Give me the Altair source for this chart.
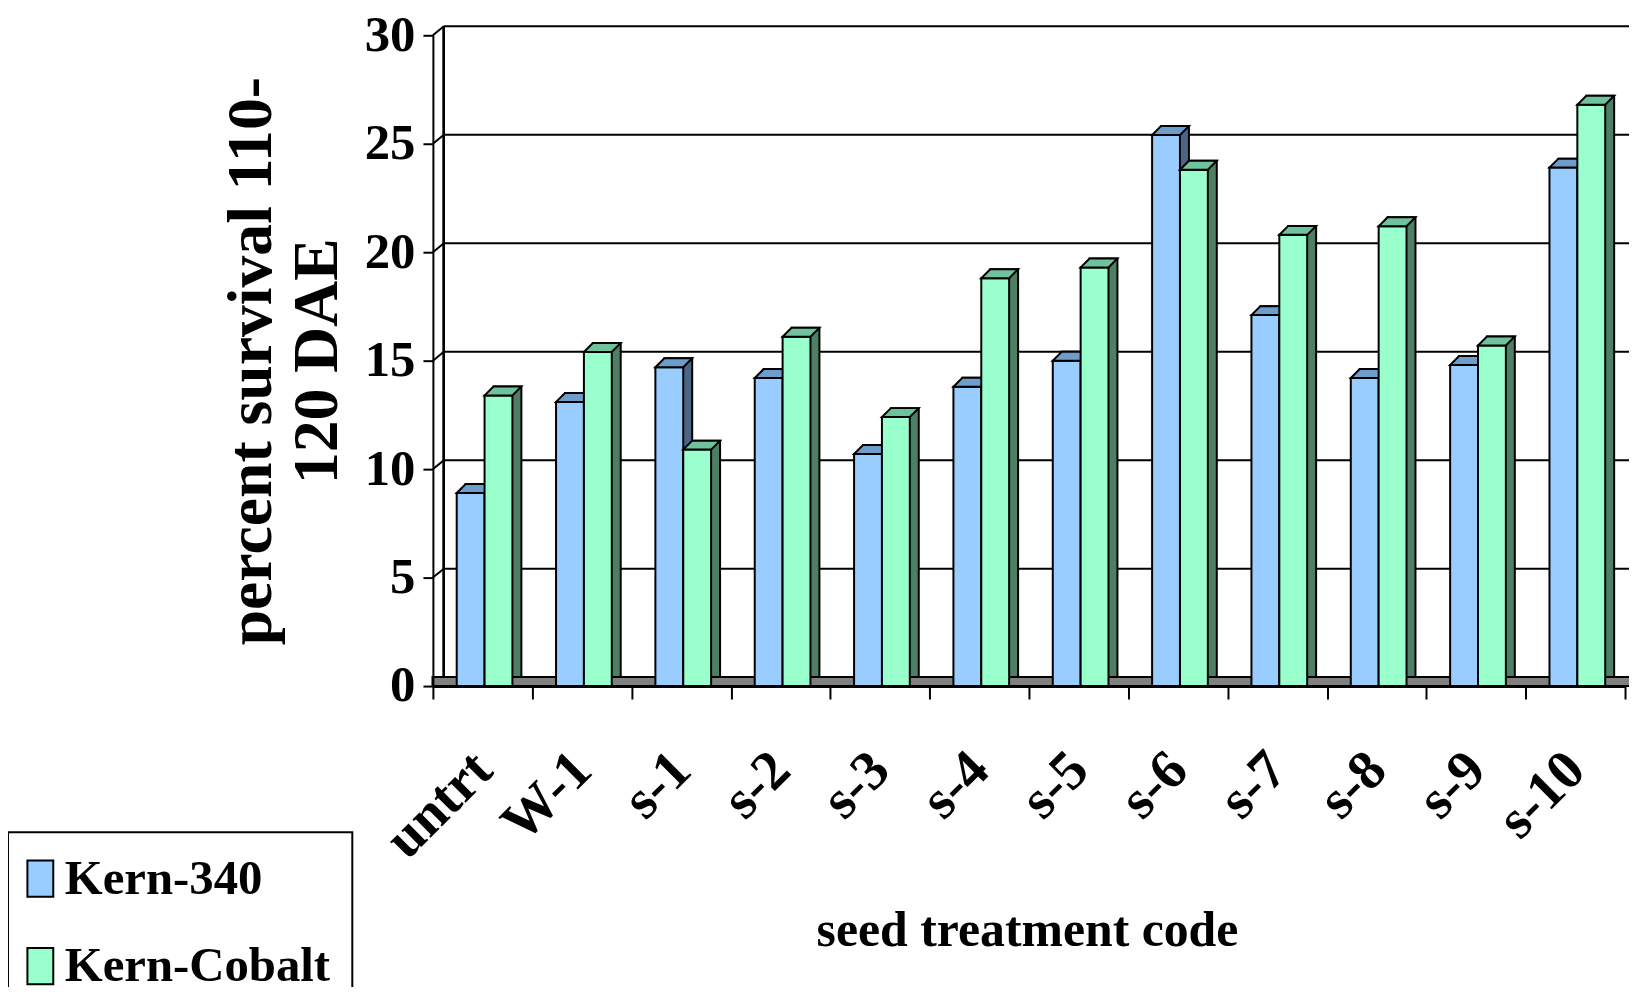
import altair as alt
import pandas as pd

# ---------------- data ----------------
categories = ["untrt", "W-1", "s-1", "s-2", "s-3", "s-4", "s-5", "s-6", "s-7", "s-8", "s-9", "s-10"]
kern_340 = [8.9, 13.1, 14.7, 14.2, 10.7, 13.8, 15.0, 25.4, 17.1, 14.2, 14.8, 23.9]
kern_cobalt = [13.4, 15.4, 10.9, 16.1, 12.4, 18.8, 19.3, 23.8, 20.8, 21.2, 15.7, 26.8]
series_names = ["Kern-340", "Kern-Cobalt"]
y_ticks = [0, 5, 10, 15, 20, 25, 30]

# ---------------- style ----------------
front_colors = ["#99CCFF", "#99FFCC"]
side_colors = ["#4C6585", "#4E7F64"]
cap_colors = ["#6E9DCC", "#6FC29B"]
FONT = "Liberation Serif"
W, H = 1198, 654
BW = 28            # bar width (px)
DX, DY = 9, 9      # bar depth
WX, WY = 11, 9     # wall depth
BX = 2             # small shift of bar groups
series_shift = [-BW / 2, BW / 2]
CAP_PATH = "M-14,0L14,0L23,-9L-5,-9Z"
LEGEND_SYMBOL = "M-1,-1.4L1,-1.4L1,1.4L-1,1.4Z"

rows = []
for i, c in enumerate(categories):
    rows.append({"code": c, "series": series_names[0], "value": kern_340[i]})
    rows.append({"code": c, "series": series_names[1], "value": kern_cobalt[i]})
df = pd.DataFrame(rows)
grid_df = pd.DataFrame({"v": y_ticks})

x_scale = alt.Scale(domain=categories, paddingInner=0, paddingOuter=0)
y_scale = alt.Scale(domain=[0, 30], nice=False, zero=True)

x_axis = alt.Axis(
    title="seed treatment code", titleFont=FONT, titleFontSize=50, titleFontWeight="bold",
    titleColor="black", titleX=597, titleY=261, titleBaseline="alphabetic", titleAlign="center",
    labelAngle=315, labelAlign="right", labelBaseline="middle", labelPadding=62,
    labelFont=FONT, labelFontSize=56, labelFontWeight="bold", labelColor="black",
    labelLimit=0, labelOverlap=False,
    tickSize=13, tickWidth=2, tickColor="black", tickBand="extent",
    domainColor="black", domainWidth=3, zindex=1,
)
y_axis = alt.Axis(
    values=y_ticks, grid=False,
    title=["percent survival 110-", "120 DAE"], titleFont=FONT, titleFontSize=64,
    titleFontWeight="bold", titleColor="black", titleAngle=270, titleX=-163, titleY=327,
    titleAlign="center", titleBaseline="alphabetic", titleLineHeight=66,
    labelFont=FONT, labelFontSize=51, labelFontWeight="bold", labelColor="black", labelPadding=8,
    tickSize=10, tickWidth=2, tickColor="black", domainColor="black", domainWidth=2, zindex=1,
)

x_enc = alt.X("code:N", sort=categories, scale=x_scale, axis=x_axis)
y_enc = alt.Y("value:Q", scale=y_scale, axis=y_axis)

# ---------------- back wall, gridlines, floor ----------------
grid_h = alt.Chart(grid_df).mark_rule(color="black", strokeWidth=2, yOffset=-WY).encode(
    y=alt.Y("v:Q", scale=y_scale, axis=y_axis),
    x=alt.value(WX), x2=alt.value(W + 30),
)
grid_d = alt.Chart(grid_df).mark_rule(color="black", strokeWidth=2, y2Offset=-WY).encode(
    y=alt.Y("v:Q", scale=y_scale, axis=y_axis), y2=alt.Y2("v"),
    x=alt.value(0), x2=alt.value(WX),
)
wall_left = alt.Chart(grid_df).mark_rule(color="black", strokeWidth=2).encode(
    x=alt.value(WX), y=alt.value(-WY), y2=alt.value(H - WY),
)
floor = alt.Chart(grid_df).mark_rect(fill="#808080", stroke="black", strokeWidth=2).encode(
    x=alt.value(0), x2=alt.value(W + 30), y=alt.value(H - WY), y2=alt.value(H),
)

legend = alt.Legend(
    title=None, orient="none", legendX=-427, legendY=801, direction="vertical",
    symbolType=LEGEND_SYMBOL, symbolSize=676, symbolStrokeColor="black", symbolStrokeWidth=2,
    symbolOffset=-14,
    labelFont=FONT, labelFontSize=49, labelFontWeight="bold", labelColor="black",
    labelOffset=0, rowPadding=38, padding=22, strokeColor="black", fillColor="white",
    labelLimit=0,
)

layers = [grid_h, grid_d, wall_left, floor]
for k, name in enumerate(series_names):
    base = alt.Chart(df).transform_filter(alt.datum.series == name)
    shift = BX + series_shift[k]
    back = base.mark_bar(width=BW, fill=side_colors[k], stroke="black", strokeWidth=2,
                         xOffset=shift + DX, yOffset=-DY, y2Offset=-DY).encode(
        x=x_enc, y=y_enc)
    front = base.mark_bar(width=BW, stroke="black", strokeWidth=2, xOffset=shift, opacity=1).encode(
        x=x_enc, y=y_enc,
        color=alt.Color("series:N", sort=series_names,
                        scale=alt.Scale(domain=series_names, range=front_colors),
                        legend=legend))
    cap = base.mark_point(shape=CAP_PATH, size=4, filled=True, fill=cap_colors[k],
                          stroke="black", strokeWidth=2, opacity=1, xOffset=shift).encode(
        x=x_enc, y=y_enc)
    layers += [back, front, cap]

chart = alt.layer(*layers).properties(
    width=W, height=H,
    autosize=alt.AutoSizeParams(type="none"),
    padding={"left": 427, "top": 25, "right": 4, "bottom": 300},
).configure_view(stroke=None).configure_legend(strokeWidth=2)

chart.save("out.html", embed_options={"renderer": "svg", "actions": False})
